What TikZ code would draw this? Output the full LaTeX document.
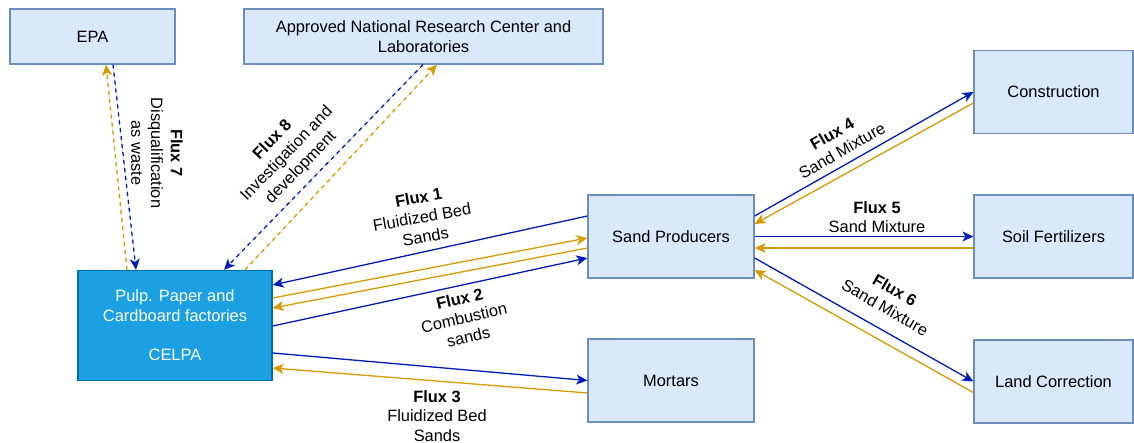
\documentclass[tikz,border=0pt]{standalone}
\usepackage{fontspec}
\setmainfont{Liberation Sans}
\usetikzlibrary{arrows.meta}
\definecolor{boxfill}{HTML}{DAE8FC}
\definecolor{boxline}{HTML}{6C8EBF}
\definecolor{mainfill}{HTML}{1BA1E2}
\definecolor{mainline}{HTML}{006EAF}
\definecolor{flowblue}{HTML}{001DBC}
\definecolor{floworange}{HTML}{D79B00}
\begin{document}
\begin{tikzpicture}[x=1pt,y=-1pt,
  every node/.style={font=\fontsize{16.4}{19.7}\selectfont, inner sep=0pt},
  entity/.style={draw=boxline, fill=boxfill, line width=1.3pt, align=center},
  mainentity/.style={draw=mainline, fill=mainfill, line width=1.3pt, align=center, text=white},
  flowlabel/.style={align=center},
  tip/.style={-{Stealth[length=11pt,width=10pt,inset=3pt]}},
  bflow/.style={tip, draw=flowblue, fill=flowblue, line width=1.3pt},
  oflow/.style={tip, draw=floworange, fill=floworange, line width=1.3pt},
  dashflow/.style={dash pattern=on 4pt off 4pt}]

\useasboundingbox (0,0) rectangle (1134,443);

% participants
\node[entity, minimum width=165pt, minimum height=55pt] (epa) at (92.5,36.5) {EPA};
\node[entity, minimum width=359pt, minimum height=55pt] (lab) at (423.5,36.5)
  {Approved National Research Center and\\Laboratories};
\node[mainentity, minimum width=194pt, minimum height=110pt] (celpa) at (175,325.5)
  {Pulp. Paper and\\Cardboard factories\\[19.7pt]CELPA};
\node[entity, minimum width=166pt, minimum height=83pt] (sp) at (671,236.5) {Sand Producers};
\node[entity, minimum width=166pt, minimum height=83pt] (mort) at (671,380.5) {Mortars};
\node[entity, minimum width=159pt, minimum height=83pt] (cons) at (1053.5,92) {Construction};
\node[entity, minimum width=159pt, minimum height=83pt] (soil) at (1053.5,236.5) {Soil Fertilizers};
\node[entity, minimum width=159pt, minimum height=83pt] (land) at (1053.5,381.5) {Land Correction};

% Flux 7: EPA <-> CELPA
\draw[oflow, dashflow] ([xshift=-48pt]celpa.north) -- ([xshift=13.5pt]epa.south);
\draw[bflow, dashflow] ([xshift=20.5pt]epa.south) -- ([xshift=-39pt]celpa.north);
% Flux 8: laboratories <-> CELPA
\draw[bflow, dashflow] ([xshift=-0.5pt]lab.south) -- ([xshift=49pt]celpa.north);
\draw[oflow, dashflow] ([xshift=70pt]celpa.north) -- ([xshift=13.5pt]lab.south);

% Flux 1 and 2: CELPA <-> sand producers
\draw[bflow] ([yshift=20.5pt]sp.west) -- ([yshift=40.5pt]celpa.east);
\draw[oflow] ([yshift=27.5pt]celpa.east) -- ([yshift=-1.5pt]sp.west);
\draw[oflow] ([yshift=-11.5pt]sp.west) -- ([yshift=17.5pt]celpa.east);
\draw[bflow] ([yshift=-0.5pt]celpa.east) -- ([yshift=-21.5pt]sp.west);

% Flux 3: CELPA <-> mortars
\draw[bflow] ([yshift=-27.5pt]celpa.east) -- ([yshift=0pt]mort.west);
\draw[oflow] ([yshift=-12.5pt]mort.west) -- ([yshift=-42.5pt]celpa.east);

% Flux 4, 5, 6: sand producers <-> users
\draw[bflow] ([yshift=20.5pt]sp.east) -- (cons.west);
\draw[oflow] ([yshift=-11pt]cons.west) -- ([yshift=12.5pt]sp.east);
\draw[bflow] (sp.east) -- (soil.west);
\draw[oflow] ([yshift=-11.5pt]soil.west) -- ([yshift=-11.5pt]sp.east);
\draw[bflow] ([yshift=-21.5pt]sp.east) -- (land.west);
\draw[oflow] ([yshift=-11pt]land.west) -- ([yshift=-33.5pt]sp.east);

% flux labels
\node[flowlabel, rotate=-90] (l7) at (157,153) {\textbf{Flux 7}\\Disqualification\\as waste};
\node[flowlabel, rotate=46] (l8) at (287,154) {\textbf{Flux 8}\\Investigation and\\development};
\node[flowlabel, rotate=10] (l1) at (422,217) {\textbf{Flux 1}\\Fluidized Bed\\Sands};
\node[flowlabel, rotate=13] (l2) at (464,318) {\textbf{Flux 2}\\Combustion\\sands};
\node[flowlabel] (l3) at (437,416) {\textbf{Flux 3}\\Fluidized Bed\\Sands};
\node[flowlabel, rotate=30] (l4) at (837,142) {\textbf{Flux 4}\\Sand Mixture};
\node[flowlabel] (l5) at (877,217) {\textbf{Flux 5}\\Sand Mixture};
\node[flowlabel, rotate=-30] (l6) at (890,299) {\textbf{Flux 6}\\Sand Mixture};
\end{tikzpicture}
\end{document}
